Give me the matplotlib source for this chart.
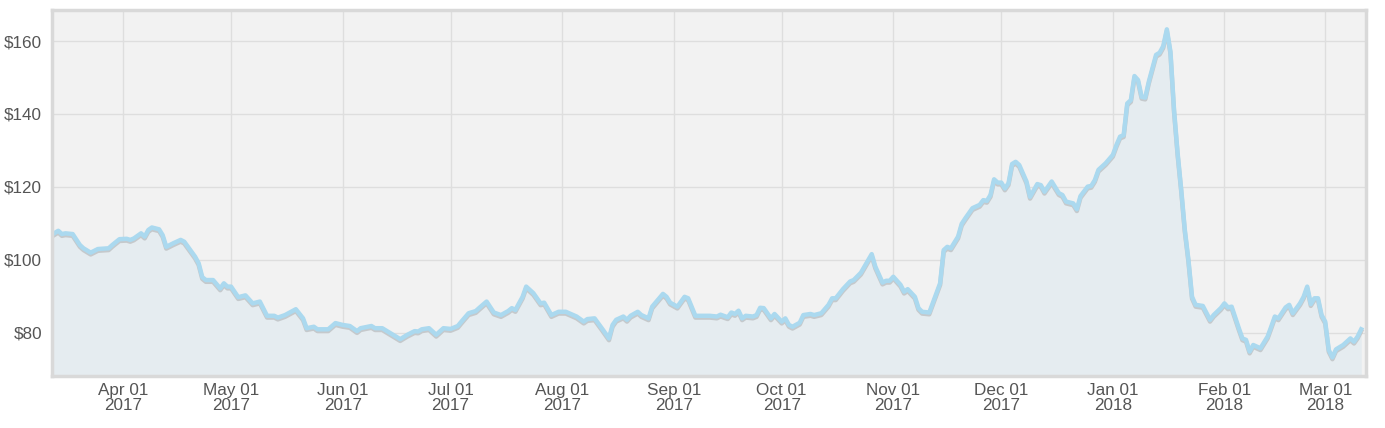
import matplotlib
matplotlib.use("Agg")
import matplotlib.pyplot as plt
import matplotlib.dates as mdates
import matplotlib.patheffects as pe
import pandas as pd

plt.rcParams['font.family'] = ['Liberation Sans', 'DejaVu Sans']

dates = [
    "2017-03-12", "2017-03-14", "2017-03-15", "2017-03-16", "2017-03-18", "2017-03-20", "2017-03-21",
    "2017-03-23", "2017-03-25", "2017-03-28", "2017-03-29", "2017-03-31", "2017-04-02", "2017-04-03",
    "2017-04-04", "2017-04-06", "2017-04-07", "2017-04-08", "2017-04-09", "2017-04-11", "2017-04-12",
    "2017-04-13", "2017-04-15", "2017-04-17", "2017-04-18", "2017-04-20", "2017-04-21", "2017-04-22",
    "2017-04-23", "2017-04-24", "2017-04-26", "2017-04-28", "2017-04-29", "2017-04-30", "2017-05-01",
    "2017-05-03", "2017-05-05", "2017-05-07", "2017-05-09", "2017-05-11", "2017-05-13", "2017-05-14",
    "2017-05-16", "2017-05-19", "2017-05-21", "2017-05-22", "2017-05-24", "2017-05-25", "2017-05-28",
    "2017-05-30", "2017-06-01", "2017-06-03", "2017-06-05", "2017-06-06", "2017-06-09", "2017-06-10",
    "2017-06-12", "2017-06-15", "2017-06-17", "2017-06-19", "2017-06-21", "2017-06-22", "2017-06-23",
    "2017-06-25", "2017-06-27", "2017-06-29", "2017-07-01", "2017-07-03", "2017-07-04", "2017-07-06",
    "2017-07-08", "2017-07-09", "2017-07-11", "2017-07-13", "2017-07-15", "2017-07-17", "2017-07-18",
    "2017-07-19", "2017-07-21", "2017-07-22", "2017-07-24", "2017-07-26", "2017-07-27", "2017-07-29",
    "2017-07-31", "2017-08-02", "2017-08-05", "2017-08-07", "2017-08-08", "2017-08-10", "2017-08-12",
    "2017-08-14", "2017-08-15", "2017-08-16", "2017-08-18", "2017-08-19", "2017-08-20", "2017-08-22",
    "2017-08-23", "2017-08-25", "2017-08-26", "2017-08-29", "2017-08-30", "2017-08-31", "2017-09-02",
    "2017-09-04", "2017-09-05", "2017-09-07", "2017-09-11", "2017-09-13", "2017-09-14", "2017-09-16",
    "2017-09-17", "2017-09-18", "2017-09-19", "2017-09-20", "2017-09-21", "2017-09-23", "2017-09-24",
    "2017-09-25", "2017-09-26", "2017-09-28", "2017-09-29", "2017-10-01", "2017-10-02", "2017-10-03",
    "2017-10-04", "2017-10-06", "2017-10-07", "2017-10-09", "2017-10-10", "2017-10-12", "2017-10-14",
    "2017-10-15", "2017-10-16", "2017-10-18", "2017-10-20", "2017-10-21", "2017-10-23", "2017-10-24",
    "2017-10-26", "2017-10-27", "2017-10-29", "2017-10-30", "2017-10-31", "2017-11-01", "2017-11-03",
    "2017-11-04", "2017-11-05", "2017-11-07", "2017-11-08", "2017-11-09", "2017-11-11", "2017-11-14",
    "2017-11-15", "2017-11-16", "2017-11-17", "2017-11-19", "2017-11-20", "2017-11-21", "2017-11-23",
    "2017-11-25", "2017-11-26", "2017-11-27", "2017-11-28", "2017-11-29", "2017-11-30", "2017-12-01",
    "2017-12-02", "2017-12-03", "2017-12-04", "2017-12-05", "2017-12-06", "2017-12-08", "2017-12-09",
    "2017-12-11", "2017-12-12", "2017-12-13", "2017-12-15", "2017-12-17", "2017-12-18", "2017-12-19",
    "2017-12-21", "2017-12-22", "2017-12-23", "2017-12-25", "2017-12-26", "2017-12-27", "2017-12-28",
    "2017-12-30", "2018-01-01", "2018-01-02", "2018-01-03", "2018-01-04", "2018-01-05", "2018-01-06",
    "2018-01-07", "2018-01-08", "2018-01-09", "2018-01-10", "2018-01-11", "2018-01-12", "2018-01-13",
    "2018-01-14", "2018-01-15", "2018-01-16", "2018-01-17", "2018-01-18", "2018-01-19", "2018-01-20",
    "2018-01-21", "2018-01-22", "2018-01-23", "2018-01-24", "2018-01-26", "2018-01-28", "2018-01-29",
    "2018-01-31", "2018-02-01", "2018-02-02", "2018-02-03", "2018-02-05", "2018-02-06", "2018-02-07",
    "2018-02-08", "2018-02-09", "2018-02-11", "2018-02-13", "2018-02-14", "2018-02-15", "2018-02-16",
    "2018-02-18", "2018-02-19", "2018-02-20", "2018-02-22", "2018-02-23", "2018-02-24", "2018-02-25",
    "2018-02-26", "2018-02-27", "2018-02-28", "2018-03-01", "2018-03-02", "2018-03-03", "2018-03-04",
    "2018-03-06", "2018-03-07", "2018-03-08", "2018-03-09", "2018-03-10", "2018-03-11",
]

prices = [
    106.8, 108.0, 107.1, 107.3, 107.1, 104.1, 103.2,
    102.0, 103.0, 103.2, 104.1, 105.7, 105.8, 105.5,
    105.9, 107.3, 106.4, 108.2, 108.9, 108.4, 106.8,
    103.6, 104.6, 105.5, 105.0, 102.3, 100.9, 99.1,
    95.3, 94.5, 94.5, 92.2, 93.6, 92.7, 92.7,
    89.8, 90.3, 88.1, 88.6, 84.7, 84.7, 84.2,
    84.9, 86.5, 84.0, 81.3, 81.7, 81.0, 81.0,
    82.7, 82.2, 81.9, 80.5, 81.3, 81.9, 81.3,
    81.3, 79.5, 78.3, 79.5, 80.5, 80.4, 81.0,
    81.3, 79.5, 81.3, 81.1, 81.9, 83.1, 85.4,
    86.0, 86.9, 88.6, 85.6, 84.9, 86.0, 86.8,
    86.3, 89.9, 92.7, 90.9, 88.1, 88.3, 84.9,
    85.8, 85.8, 84.5, 83.1, 83.8, 84.0, 81.3,
    78.5, 82.2, 83.6, 84.5, 83.6, 84.7, 85.8,
    84.9, 84.0, 87.2, 90.7, 89.9, 88.3, 87.2,
    89.9, 89.5, 84.7, 84.7, 84.5, 85.0, 84.3,
    85.6, 85.2, 86.1, 84.0, 84.7, 84.5, 84.9,
    86.9, 86.8, 84.0, 85.2, 83.1, 84.0, 82.2,
    81.7, 82.8, 84.9, 85.2, 84.9, 85.4, 87.7,
    89.5, 89.5, 92.0, 94.1, 94.5, 96.5, 98.2,
    101.6, 98.2, 93.8, 94.3, 94.3, 95.4, 93.2,
    91.3, 92.0, 89.9, 86.8, 85.8, 85.6, 93.6,
    102.7, 103.6, 103.2, 106.4, 109.9, 111.4, 114.2,
    115.1, 116.4, 116.2, 117.8, 122.1, 121.2, 121.2,
    119.6, 121.0, 126.3, 126.9, 126.0, 121.5, 117.3,
    120.8, 120.5, 118.7, 121.5, 118.3, 117.8, 116.0,
    115.5, 113.9, 117.5, 120.1, 120.3, 121.9, 124.7,
    126.5, 128.8, 131.5, 133.8, 134.2, 142.9, 143.8,
    150.4, 149.3, 144.7, 144.5, 148.9, 152.5, 156.2,
    156.8, 158.6, 163.2, 157.1, 141.1, 129.2, 119.2,
    108.2, 100.0, 89.9, 87.7, 87.4, 83.6, 84.9,
    86.8, 88.1, 87.0, 87.2, 81.3, 78.5, 78.1,
    74.9, 76.7, 75.8, 79.0, 81.7, 84.5, 84.0,
    87.0, 87.7, 85.4, 88.1, 89.9, 92.7, 87.9,
    89.5, 89.5, 84.9, 83.1, 75.3, 73.3, 75.5,
    76.7, 77.6, 78.5, 77.6, 79.0, 81.0,
]

ytick_values = [80, 100, 120, 140, 160]
xtick_dates = ["2017-04-01", "2017-05-01", "2017-06-01", "2017-07-01", "2017-08-01",
               "2017-09-01", "2017-10-01", "2017-11-01", "2017-12-01", "2018-01-01",
               "2018-02-01", "2018-03-01"]

x = pd.to_datetime(dates)
xt = pd.to_datetime(xtick_dates)

fig = plt.figure(figsize=(13.85, 4.28), dpi=100)
ax = fig.add_axes([52 / 1385, 1 - 376 / 428, (1366 - 52) / 1385, (376 - 10) / 428])
ax.set_facecolor("#f2f2f2")

ymin, ymax = 68.2, 168.5
ax.fill_between(x, prices, ymin, color="#e5ecf0", zorder=2, lw=0)
ax.plot(x, prices, color="#abd9ef", lw=3.2, zorder=3, solid_joinstyle="round",
        path_effects=[pe.SimpleLineShadow(offset=(0, -1.3), shadow_color="#8a8a8a", alpha=0.35),
                      pe.Normal()])

ax.set_ylim(ymin, ymax)
ax.set_xlim(pd.Timestamp("2017-03-12 06:00"), pd.Timestamp("2018-03-12 08:00"))

ax.set_yticks(ytick_values)
ax.set_yticklabels([f"${v}" for v in ytick_values])
ax.set_xticks(xt)
ax.set_xticklabels([d.strftime("%b %d") + "\n" + d.strftime("%Y") for d in xt], linespacing=1.0)

ax.grid(True, color="#dedede", lw=1.0, zorder=1)
ax.set_axisbelow(True)
ax.tick_params(axis="both", length=0, labelsize=12.3, colors="#555555")
ax.tick_params(axis="x", pad=5)
ax.tick_params(axis="y", pad=7)

for s in ax.spines.values():
    s.set_color("#d9d9d9")
    s.set_linewidth(2.5)
    s.set_zorder(5)

fig.savefig("out.png", dpi=100)
